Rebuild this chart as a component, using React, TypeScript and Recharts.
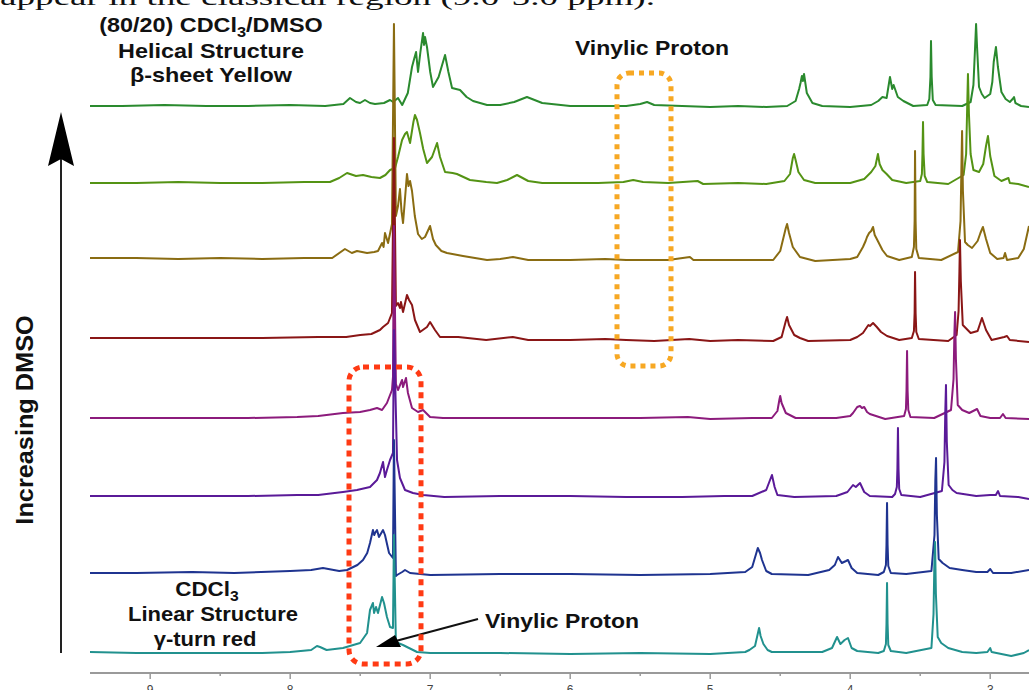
import React from 'react';
import { LineChart, Line, XAxis, YAxis } from 'recharts';

type Pt = [number, number];

// [chemical shift (ppm), intensity above baseline]
const SPEC_80_20: Pt[] = [[9.43,1],[9.2,1],[8.9,2],[8.6,1],[8.3,1],[8.0,2],[7.75,1],[7.62,3],[7.573,9],[7.53,5],[7.501,4],[7.466,7],[7.43,4],[7.394,3],[7.33,4],[7.287,7],[7.265,5],[7.23,9],[7.2,2],[7.16,14],[7.13,40],[7.115,48],[7.101,55],[7.087,35],[7.07,55],[7.051,74],[7.044,62],[7.037,70],[7.023,60],[7.0,35],[6.98,20],[6.94,30],[6.894,52],[6.87,35],[6.844,19],[6.787,17],[6.74,10],[6.694,6],[6.594,2],[6.5,2],[6.4,5],[6.309,10],[6.2,4],[6.0,1],[5.8,1],[5.6,1],[5.5,3],[5.451,5],[5.4,2],[5.2,1],[5.0,0],[4.8,1],[4.6,0],[4.45,1],[4.39,6],[4.365,18],[4.355,24],[4.345,31],[4.338,26],[4.33,33],[4.31,14],[4.27,4],[4.2,1],[4.0,0],[3.85,2],[3.8,6],[3.77,10],[3.74,9],[3.716,30],[3.7,18],[3.69,22],[3.66,10],[3.62,6],[3.55,1],[3.45,2],[3.435,8],[3.427,30],[3.423,66],[3.418,30],[3.41,7],[3.39,2],[3.2,1],[3.14,5],[3.12,22],[3.108,60],[3.101,83],[3.094,60],[3.08,20],[3.06,13],[3.04,9],[3.0,13],[2.985,25],[2.975,45],[2.959,60],[2.945,40],[2.92,15],[2.89,8],[2.86,5],[2.84,8],[2.83,10],[2.82,4],[2.78,1],[2.723,0]];
const SPEC_B: Pt[] = [[9.43,1],[9.1,1],[8.8,2],[8.5,1],[8.2,1],[7.9,2],[7.716,2],[7.65,6],[7.594,11],[7.53,8],[7.48,9],[7.42,7],[7.359,6],[7.32,9],[7.287,14],[7.251,16],[7.23,27],[7.201,44],[7.18,50],[7.166,52],[7.144,41],[7.12,62],[7.109,69],[7.094,64],[7.073,51],[7.05,35],[7.023,21],[6.987,27],[6.951,41],[6.93,27],[6.894,12],[6.84,11],[6.809,10],[6.716,4],[6.6,2],[6.523,1],[6.45,4],[6.38,9],[6.3,3],[6.2,1],[6.0,1],[5.8,1],[5.62,2],[5.55,4],[5.48,2],[5.3,1],[5.09,3],[5.05,0],[4.8,1],[4.6,0],[4.47,3],[4.43,10],[4.41,26],[4.401,30],[4.39,24],[4.37,12],[4.33,4],[4.25,1],[4.0,1],[3.9,5],[3.85,12],[3.82,18],[3.802,30],[3.79,20],[3.77,14],[3.74,10],[3.7,4],[3.6,1],[3.5,3],[3.488,10],[3.484,30],[3.48,62],[3.476,30],[3.468,8],[3.45,2],[3.3,0],[3.19,9],[3.172,30],[3.164,80],[3.159,110],[3.152,70],[3.14,30],[3.12,14],[3.08,12],[3.05,20],[3.03,38],[3.016,48],[3.0,28],[2.97,8],[2.92,3],[2.87,6],[2.86,1],[2.8,0],[2.723,-3]];
const SPEC_C: Pt[] = [[9.43,3],[9.1,3],[8.8,2],[8.5,3],[8.2,2],[7.9,3],[7.7,3],[7.609,12],[7.56,8],[7.523,10],[7.451,8],[7.4,9],[7.373,10],[7.344,18],[7.333,14],[7.323,28],[7.301,18],[7.273,37],[7.259,237],[7.245,45],[7.23,55],[7.216,72],[7.205,50],[7.194,38],[7.166,87],[7.155,75],[7.144,80],[7.13,70],[7.11,45],[7.087,27],[7.06,22],[7.037,24],[7.001,35],[6.98,22],[6.96,16],[6.92,10],[6.88,8],[6.766,5],[6.594,1],[6.5,2],[6.409,4],[6.3,1],[6.0,1],[5.75,2],[5.6,1],[5.3,1],[5.145,4],[5.12,1],[4.8,1],[4.55,1],[4.5,10],[4.46,33],[4.451,37],[4.437,28],[4.41,14],[4.359,4],[4.25,0],[4.0,2],[3.95,4],[3.909,14],[3.89,20],[3.88,24],[3.865,28],[3.85,30],[3.837,34],[3.825,26],[3.81,22],[3.77,11],[3.737,5],[3.65,1],[3.56,4],[3.545,14],[3.54,40],[3.537,110],[3.533,40],[3.528,12],[3.51,3],[3.35,1],[3.23,9],[3.212,40],[3.205,100],[3.201,130],[3.195,70],[3.18,19],[3.16,16],[3.13,13],[3.09,20],[3.07,28],[3.052,34],[3.03,22],[3.0,8],[2.95,2],[2.905,3],[2.894,8],[2.88,1],[2.8,3],[2.76,12],[2.723,35]];
const SPEC_D: Pt[] = [[9.43,3],[9.1,3],[8.8,3],[8.5,3],[8.2,3],[7.8,4],[7.6,4],[7.5,6],[7.42,7],[7.359,11],[7.337,14],[7.301,18],[7.273,28],[7.259,203],[7.245,35],[7.23,38],[7.216,33],[7.209,39],[7.194,29],[7.166,46],[7.151,41],[7.13,36],[7.109,21],[7.073,9],[7.023,14],[7.001,19],[6.966,11],[6.93,4],[6.8,4],[6.6,1],[6.41,4],[6.3,1],[6.0,1],[5.75,2],[5.6,1],[5.4,0],[5.15,2],[5.0,0],[4.8,1],[4.55,0],[4.49,4],[4.46,20],[4.451,24],[4.437,16],[4.4,6],[4.359,3],[4.3,0],[4.0,1],[3.95,4],[3.909,8],[3.88,14],[3.87,16],[3.859,15],[3.837,18],[3.81,14],[3.78,9],[3.737,5],[3.65,1],[3.56,3],[3.545,10],[3.54,28],[3.537,69],[3.533,28],[3.528,9],[3.51,2],[3.3,0],[3.24,6],[3.226,30],[3.22,70],[3.216,101],[3.21,60],[3.196,16],[3.175,13],[3.14,8],[3.09,10],[3.059,23],[3.03,11],[2.99,1],[2.9,4],[2.88,5],[2.86,1],[2.723,-1]];
const SPEC_E: Pt[] = [[9.43,1],[9.1,1],[8.7,1],[8.3,1],[7.95,2],[7.8,3],[7.623,6],[7.501,7],[7.43,9],[7.38,11],[7.344,9],[7.309,16],[7.273,29],[7.266,42],[7.259,193],[7.245,35],[7.23,29],[7.201,39],[7.194,32],[7.173,41],[7.159,26],[7.13,11],[7.087,7],[7.051,9],[7.001,2],[6.909,1],[6.5,1],[6.0,1],[5.5,1],[5.16,2],[5.0,0],[4.7,1],[4.56,1],[4.52,8],[4.505,20],[4.5,23],[4.49,16],[4.46,6],[4.39,1],[4.1,1],[4.0,3],[3.98,6],[3.95,12],[3.93,13],[3.916,11],[3.9,12],[3.88,7],[3.86,5],[3.75,0],[3.615,3],[3.602,10],[3.598,28],[3.594,68],[3.59,28],[3.585,9],[3.57,2],[3.4,1],[3.28,9],[3.262,40],[3.256,85],[3.251,107],[3.245,60],[3.232,14],[3.2,9],[3.15,6],[3.094,10],[3.07,3],[3.0,1],[2.93,1],[2.909,5],[2.89,1],[2.723,0]];
const SPEC_F: Pt[] = [[9.43,1],[9.1,1],[8.7,1],[8.3,1],[7.95,2],[7.8,2],[7.623,5],[7.523,7],[7.43,10],[7.38,17],[7.359,24],[7.337,35],[7.323,20],[7.309,27],[7.287,37],[7.266,44],[7.259,167],[7.237,37],[7.216,19],[7.18,7],[7.123,4],[7.05,2],[6.9,0],[6.5,1],[6.0,1],[5.6,0],[5.2,0],[4.9,1],[4.7,1],[4.6,7],[4.57,18],[4.559,22],[4.54,10],[4.52,2],[4.4,0],[4.1,1],[4.02,5],[3.98,12],[3.96,10],[3.93,14],[3.9,5],[3.86,1],[3.7,0],[3.68,3],[3.667,10],[3.663,28],[3.659,69],[3.655,28],[3.65,8],[3.635,2],[3.5,0],[3.345,6],[3.327,35],[3.321,85],[3.316,112],[3.31,55],[3.297,12],[3.27,7],[3.24,4],[3.1,1],[3.0,2],[2.96,2],[2.944,6],[2.93,1],[2.8,0],[2.723,-2]];
const SPEC_G: Pt[] = [[9.43,2],[9.1,2],[8.7,3],[8.4,2],[8.0,4],[7.85,5],[7.766,7],[7.65,4],[7.594,5],[7.52,10],[7.48,15],[7.45,22],[7.43,32],[7.409,45],[7.4,40],[7.394,42],[7.38,45],[7.366,38],[7.337,45],[7.323,40],[7.294,22],[7.266,17],[7.259,135],[7.245,-1],[7.237,0],[7.2,3],[7.18,5],[7.144,2],[7.0,0],[6.5,1],[6.0,1],[5.5,0],[5.0,1],[4.75,3],[4.7,8],[4.66,27],[4.644,22],[4.63,15],[4.6,4],[4.56,1],[4.3,0],[4.15,5],[4.11,10],[4.087,18],[4.06,12],[4.03,14],[4.016,15],[3.99,7],[3.95,2],[3.8,0],[3.76,3],[3.745,10],[3.741,30],[3.737,72],[3.733,30],[3.728,9],[3.71,2],[3.6,1],[3.42,4],[3.398,40],[3.392,95],[3.387,117],[3.381,60],[3.368,16],[3.34,12],[3.29,7],[3.2,5],[3.1,3],[3.02,3],[3.0,6],[2.98,2],[2.85,2],[2.723,5]];
const SPEC_CDCL3: Pt[] = [[9.43,2],[9.1,1],[8.8,1],[8.5,1],[8.2,1],[8.0,2],[7.85,4],[7.809,8],[7.787,7],[7.74,4],[7.623,6],[7.501,11],[7.451,21],[7.43,44],[7.409,51],[7.401,41],[7.387,47],[7.373,41],[7.344,57],[7.33,51],[7.309,37],[7.287,27],[7.266,26],[7.259,119],[7.245,10],[7.23,11],[7.194,9],[7.166,7],[7.094,2],[7.0,1],[6.5,1],[6.0,0],[5.5,1],[5.0,0],[4.75,2],[4.72,4],[4.68,8],[4.651,26],[4.64,18],[4.62,10],[4.59,4],[4.56,2],[4.2,2],[4.13,6],[4.094,17],[4.07,10],[4.04,14],[4.016,16],[3.99,6],[3.95,3],[3.8,1],[3.76,3],[3.745,10],[3.741,30],[3.737,71],[3.733,30],[3.728,9],[3.71,3],[3.6,1],[3.42,6],[3.405,40],[3.399,90],[3.394,112],[3.388,60],[3.375,17],[3.35,11],[3.3,6],[3.2,2],[3.1,1],[3.02,2],[3.0,6],[2.99,2],[2.85,-2],[2.76,1],[2.723,4]];

const SPECTRA: Pt[][] = [SPEC_80_20, SPEC_B, SPEC_C, SPEC_D, SPEC_E, SPEC_F, SPEC_G, SPEC_CDCL3];
const COLORS = ['#2a8a2e', '#549314', '#8a6c12', '#8a1616', '#8c1b7c', '#5a1a98', '#1f3490', '#21918e'];
const OFFSETS = [566, 489, 412, 332, 254, 176, 98, 19];

const PPM_TICKS = [9, 8.5, 8, 7.5, 7, 6.5, 6, 5.5, 5, 4.5, 4, 3.5, 3];
const PPM_DOMAIN: [number, number] = [2.723, 9.43];

const SANS = "'Liberation Sans', Arial, Helvetica, sans-serif";

function PpmTick(props: any) {
  const { x, y, payload } = props;
  const v = payload.value as number;
  const major = Number.isInteger(v);
  return (
    <g>
      <line x1={x} y1={y} x2={x} y2={y + (major ? 6 : 3)} stroke="#9a9a9a" strokeWidth={1.5} />
      {major && (
        <text x={x} y={y + 21} textAnchor="middle" fontSize={12} fill="#444" fontFamily={SANS}>
          {String(v)}
        </text>
      )}
    </g>
  );
}

function Label({ cx, y, sx, size = 20, children }: any) {
  return (
    <text
      transform={`translate(${cx},${y}) scale(${sx},1)`}
      x={0}
      y={0}
      textAnchor="middle"
      fontSize={size}
      fontWeight="bold"
      fontFamily={SANS}
      fill="#111"
    >
      {children}
    </text>
  );
}

export default function App() {
  const series = SPECTRA.map((s, i) => s.map(([ppm, v]) => ({ ppm, y: v + OFFSETS[i] })));
  return (
    <div style={{ position: 'absolute', left: 0, top: 0, width: 1029, height: 690, overflow: 'hidden', background: '#fff' }}>
      <LineChart width={1029} height={690} margin={{ top: 0, right: 0, bottom: 0, left: 90 }}>
        <XAxis
          type="number"
          dataKey="ppm"
          domain={PPM_DOMAIN}
          reversed
          allowDataOverflow
          ticks={PPM_TICKS}
          interval={0}
          tick={<PpmTick />}
          tickLine={false}
          tickSize={0}
          tickMargin={0}
          height={17}
          axisLine={{ stroke: '#9a9a9a', strokeWidth: 2 }}
        />
        <YAxis hide type="number" domain={[0, 673]} allowDataOverflow />
        {series.map((d, i) => (
          <Line
            key={i}
            data={d}
            dataKey="y"
            type="linear"
            dot={false}
            stroke={COLORS[i]}
            strokeWidth={2}
            strokeLinejoin="round"
            isAnimationActive={false}
          />
        ))}
      </LineChart>
      <svg width={1029} height={690} style={{ position: 'absolute', left: 0, top: 0, pointerEvents: 'none' }}>
        <text x={0} y={5} fontSize={24} fontFamily="'Liberation Serif', 'Times New Roman', serif" fill="#111" textLength={655} lengthAdjust="spacingAndGlyphs">
          appear in the classical region (9.0-5.0 ppm).
        </text>
        <Label cx={211} y={32} sx={1.17}>
          (80/20) CDCl<tspan fontSize={14} dy={5}>3</tspan><tspan dy={-5}>/DMSO</tspan>
        </Label>
        <Label cx={211} y={58} sx={1.17}>Helical Structure</Label>
        <Label cx={211} y={82} sx={1.17}>β-sheet Yellow</Label>
        <Label cx={652} y={55} sx={1.15}>Vinylic Proton</Label>
        <Label cx={207} y={596} sx={1.12}>
          CDCl<tspan fontSize={14} dy={5}>3</tspan>
        </Label>
        <Label cx={213} y={621} sx={1.1}>Linear Structure</Label>
        <Label cx={205} y={646} sx={1.1}>γ-turn red</Label>
        <Label cx={562} y={628} sx={1.15}>Vinylic Proton</Label>
        <text
          transform="translate(33,420) rotate(-90) scale(1.1,1)"
          x={0}
          y={0}
          textAnchor="middle"
          fontSize={23}
          fontWeight="bold"
          fontFamily={SANS}
          fill="#111"
        >
          Increasing DMSO
        </text>
        <line x1={61} y1={158} x2={61} y2={653} stroke="#222" strokeWidth={2} />
        <polygon points="61,112 74,166 61,159 48,166" fill="#000" />
        <line x1={478} y1={619} x2={392} y2={642} stroke="#111" strokeWidth={2} />
        <polygon points="376,647 395,635 401,647" fill="#000" />
        <rect x={349} y={367} width={72} height={297} rx={14} fill="none" stroke="#ff3a14" strokeWidth={5} strokeDasharray="6 5" />
        <rect x={617} y={73} width={54} height={293} rx={12} fill="none" stroke="#f7a823" strokeWidth={5} strokeDasharray="5 5" />
      </svg>
    </div>
  );
}
